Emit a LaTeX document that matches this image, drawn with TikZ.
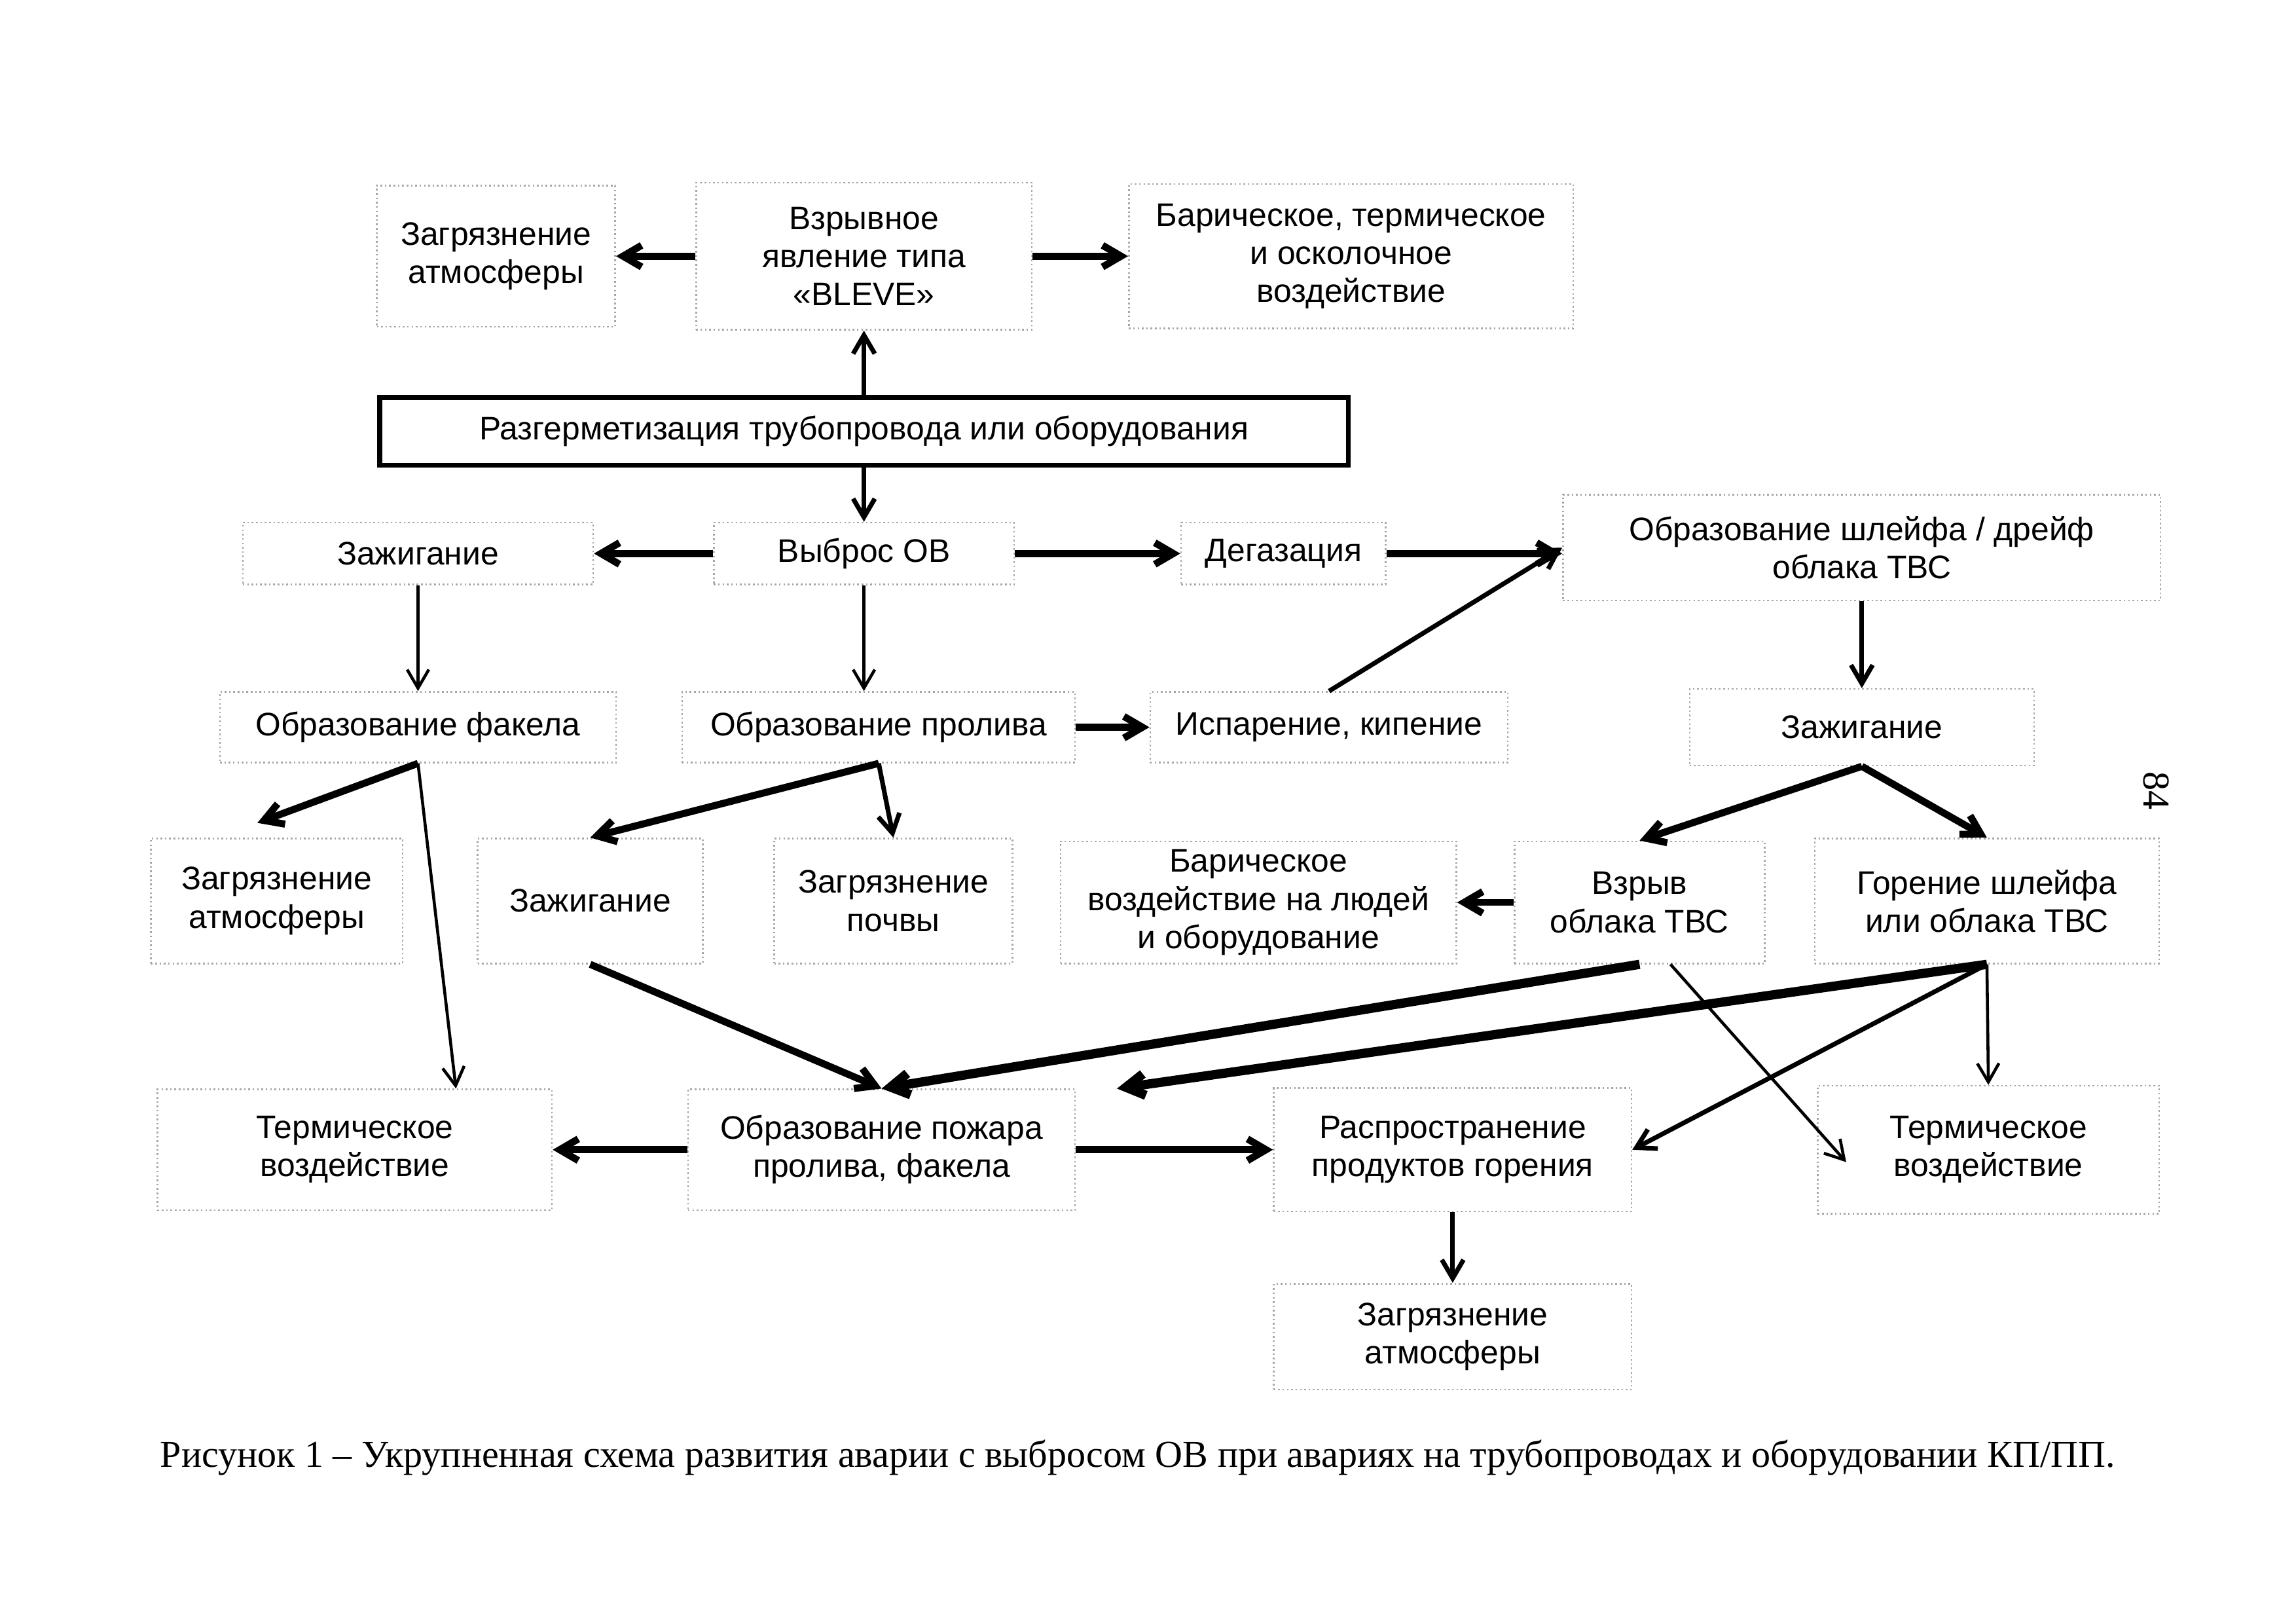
\documentclass[tikz,border=0pt]{standalone}
\usepackage{fontspec}
\setmainfont{Liberation Serif}
\setsansfont{Liberation Sans}
\usetikzlibrary{arrows.meta}

\tikzstyle{box}=[rectangle,draw=black!35,densely dotted,line width=0.6pt,align=center,inner sep=2pt,font=\sffamily\fontsize{12}{14}\selectfont]
\tikzstyle{mainbox}=[rectangle,draw=black,line width=1.8pt,align=center,inner sep=2pt,font=\sffamily\fontsize{12}{14}\selectfont]
\tikzstyle{thinarrow}=[line width=1.1pt]
\tikzstyle{midarrow}=[line width=1.7pt]
\tikzstyle{thickarrow}=[line width=2.6pt]
\tikzstyle{boldarrow}=[line width=3.4pt]
\tikzset{sz/.style 2 args={minimum width=#1*0.019038cm,minimum height=#2*0.019038cm}}

\begin{document}
\begin{tikzpicture}[x=0.019038cm,y=-0.019038cm,>={Straight Barb[length=2.4mm,width=2.8mm]}]
	\useasboundingbox (0,0) rectangle (1560,1103);

	% top row
	\node (atm1) at (337,174) [box,sz={162}{96}] {Загрязнение\\атмосферы};
	\node (bleve) at (587,174) [box,sz={228}{100}] {Взрывное\\явление типа\\«BLEVE»};
	\node (bar1) at (918,174) [box,sz={302}{98}] {Барическое, термическое\\и осколочное\\воздействие};

	\node (razg) at (587,293) [mainbox,sz={658}{46}] {Разгерметизация трубопровода или оборудования};

	\node (zazh1) at (284,376) [box,sz={238}{42}] {Зажигание};
	\node (vybros) at (587,376) [box,sz={204}{42}] {Выброс ОВ};
	\node (degaz) at (872,376) [box,sz={139}{42}] {Дегазация};
	\node (shleif) at (1265,372) [box,sz={406}{72}] {Образование шлейфа / дрейф\\облака ТВС};

	\node (fakel) at (284,494) [box,sz={269}{48}] {Образование факела};
	\node (proliv) at (597,494) [box,sz={267}{48}] {Образование пролива};
	\node (isp) at (903,494) [box,sz={243}{48}] {Испарение, кипение};
	\node (zazh2) at (1265,494) [box,sz={234}{52}] {Зажигание};

	\node (atm2) at (188,612) [box,sz={171}{85}] {Загрязнение\\атмосферы};
	\node (zazh3) at (401,612) [box,sz={153}{85}] {Зажигание};
	\node (pochva) at (607,612) [box,sz={162}{85}] {Загрязнение\\почвы};
	\node (bar2) at (855,613) [box,sz={269}{83}] {Барическое\\воздействие на людей\\и оборудование};
	\node (vzryv) at (1114,613) [box,sz={170}{83}] {Взрыв\\облака ТВС};
	\node (gorenie) at (1350,612) [box,sz={234}{85}] {Горение шлейфа\\или облака ТВС};

	\node (term1) at (241,781) [box,sz={268}{82}] {Термическое\\воздействие};
	\node (pozhar) at (599,781) [box,sz={263}{82}] {Образование пожара\\пролива, факела};
	\node (rasp) at (987,781) [box,sz={243}{84}] {Распространение\\продуктов горения};
	\node (term2) at (1351,781) [box,sz={232}{87}] {Термическое\\воздействие};

	\node (atm3) at (987,908) [box,sz={243}{72}] {Загрязнение\\атмосферы};

	\node (caption) at (773,990) [font=\rmfamily\fontsize{14}{16}\selectfont] {Рисунок 1 – Укрупненная схема развития аварии с выбросом ОВ при авариях на трубопроводах и оборудовании КП/ПП.};
	\node (page) at (1465,537) [rotate=-90,font=\rmfamily\fontsize{14}{16}\selectfont] {84};

	\draw [->,thickarrow] (bleve) to (atm1);
	\draw [->,thickarrow] (bleve) to (bar1);
	\draw [->,midarrow] (razg) to (bleve);
	\draw [->,midarrow] (razg) to (vybros);

	\draw [->,thickarrow] (vybros) to (zazh1);
	\draw [->,thickarrow] (vybros) to (degaz);
	\draw [->,thickarrow] (degaz.east) to (degaz.east -| shleif.west);
	\draw [->,midarrow] (isp.north) to (shleif.west);

	\draw [->,thinarrow] (zazh1) to (fakel);
	\draw [->,thinarrow] (vybros.south) to (vybros.south |- proliv.north);
	\draw [->,thickarrow] (proliv) to (isp);
	\draw [->,midarrow] (shleif) to (zazh2);

	\draw [->,thickarrow] (zazh2.south) to (vzryv.north);
	\draw [->,thickarrow] (zazh2.south) to (gorenie.north);
	\draw [->,thickarrow] (fakel.south) to ([xshift=-0.25cm,yshift=0.19cm]atm2.north);
	\draw [->,thinarrow] (fakel.south) to ([xshift=1.31cm]term1.north);
	\draw [->,thickarrow] (proliv.south) to (zazh3.north);
	\draw [->,midarrow] (proliv.south) to (pochva.north);
	\draw [->,thickarrow] (vzryv) to (bar2);

	\draw [->,thickarrow] (zazh3.south) to (pozhar.north);
	\draw [->,boldarrow] (vzryv.south) to (pozhar.north);
	\draw [->,boldarrow] (gorenie.south) to ([xshift=0.53cm]pozhar.north east);
	\draw [->,midarrow] (gorenie.south) to (rasp.east);
	\draw [->,thinarrow] (gorenie.south) to (term2.north);
	\draw [->,thinarrow] ([xshift=0.4cm]vzryv.south) to ([xshift=0.38cm,yshift=-0.16cm]term2.west);

	\draw [->,thickarrow] (pozhar) to (term1);
	\draw [->,thickarrow] (pozhar) to (rasp);
	\draw [->,midarrow] (rasp) to (atm3);

\end{tikzpicture}
\end{document}
